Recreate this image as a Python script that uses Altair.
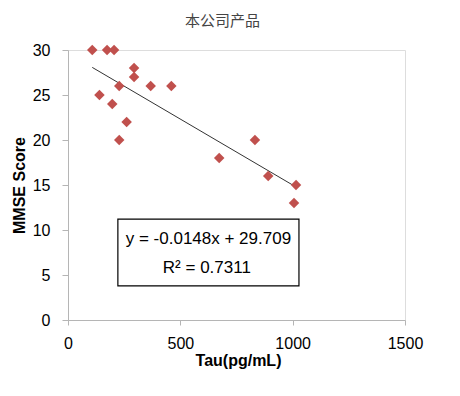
import altair as alt
import pandas as pd

# Data
tau = [108, 174, 205, 140, 197, 228, 228, 261, 294, 294, 368, 460, 673, 832, 891, 1015, 1006]
mmse = [30, 30, 30, 25, 24, 26, 20, 22, 28, 27, 26, 26, 18, 20, 16, 15, 13]

title_text = "本公司产品"
x_title = "Tau(pg/mL)"
y_title = "MMSE Score"
eq_lines = ["y = -0.0148x + 29.709", "R² = 0.7311"]

# annotation box (data coordinates)
box_x = [222]
box_x2 = [1028]
box_y = [3.8]
box_y2 = [11.2]
eq_x = [625, 618]
eq_y = [9.0, 5.8]

df = pd.DataFrame({"tau": tau, "mmse": mmse})
box_df = pd.DataFrame({"x": box_x, "x2": box_x2, "y": box_y, "y2": box_y2})
eq_df = pd.DataFrame({"t": eq_lines, "x": eq_x, "y": eq_y})

FONT = "Liberation Sans"
AX_COL = "#b5b5b5"

xscale = alt.Scale(domain=[0, 1500], nice=False)
yscale = alt.Scale(domain=[0, 30], nice=False)

x_axis = alt.Axis(
    values=[0, 500, 1000, 1500], format="d", title=x_title, grid=False,
    domainColor=AX_COL, tickColor=AX_COL, tickSize=5, labelPadding=10,
    labelFont=FONT, labelFontSize=16, labelColor="#000",
    titleFont=FONT, titleFontSize=16, titleFontWeight="bold", titleColor="#000",
    titleX=170, titleY=40, titleBaseline="middle", titleAnchor="middle",
    labelFlush=False,
)
y_axis = alt.Axis(
    values=[0, 5, 10, 15, 20, 25, 30], format="d", title=y_title, grid=False,
    domainColor=AX_COL, tickColor=AX_COL, tickSize=6, labelPadding=12,
    labelFont=FONT, labelFontSize=16, labelColor="#000",
    titleFont=FONT, titleFontSize=16, titleFontWeight="bold", titleColor="#000",
    titleX=-49, titleY=135, titleBaseline="middle", titleAnchor="middle",
    labelFlush=False,
)

base = alt.Chart(df)

points = base.mark_point(
    shape="diamond", filled=True, size=110, color="#c0504d", opacity=1
).encode(
    x=alt.X("tau:Q", scale=xscale, axis=x_axis),
    y=alt.Y("mmse:Q", scale=yscale, axis=y_axis),
)

trend = base.transform_regression(
    "tau", "mmse", extent=[min(tau), max(tau)]
).mark_line(color="#333333", strokeWidth=1).encode(
    x=alt.X("tau:Q", scale=xscale),
    y=alt.Y("mmse:Q", scale=yscale),
)

box = alt.Chart(box_df).mark_rect(
    fill="white", stroke="#000", strokeWidth=1.2
).encode(
    x=alt.X("x:Q", scale=xscale), x2="x2:Q",
    y=alt.Y("y:Q", scale=yscale), y2="y2:Q",
)

eq = alt.Chart(eq_df).mark_text(
    font=FONT, fontSize=17, color="#000", align="center", baseline="middle"
).encode(
    x=alt.X("x:Q", scale=xscale),
    y=alt.Y("y:Q", scale=yscale),
    text="t:N",
)

chart = alt.layer(trend, points, box, eq).properties(
    width=337, height=270,
    title=alt.TitleParams(
        text=title_text, font="Noto Sans CJK SC", fontSize=15,
        fontWeight="normal", color="#444", offset=13, dx=-14, anchor="middle",
    ),
    autosize=alt.AutoSizeParams(type="none"),
    padding={"left": 60, "top": 42, "right": 47, "bottom": 68},
).configure_view(stroke=None).configure(background="white")

chart.save("out.html", embed_options={"renderer": "svg", "actions": False})
